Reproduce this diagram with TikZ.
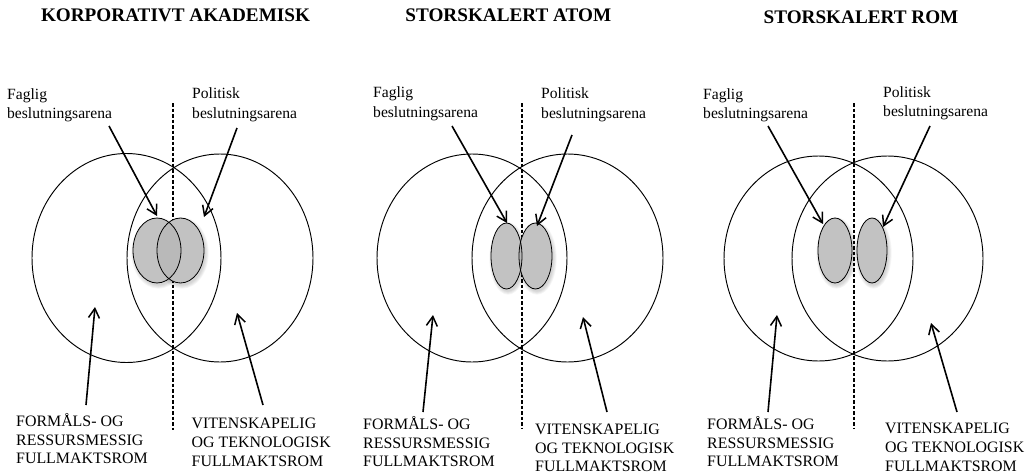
\documentclass[tikz,border=0pt]{standalone}
\usepackage{fontspec}
\setmainfont{Liberation Serif}
\usetikzlibrary{arrows.meta,shapes.geometric}
\begin{document}
\begin{tikzpicture}[x=1pt,y=-1pt,
  heading/.style={font=\bfseries\fontsize{19.2}{22}\selectfont, anchor=base, inner sep=0pt},
  arenalabel/.style={font=\fontsize{15.6}{19.3}\selectfont, align=left, anchor=north west, inner sep=0pt},
  roomlabel/.style={font=\fontsize{15.9}{18.8}\selectfont, align=left, anchor=north west, inner sep=0pt},
  room/.style={draw, ellipse, line width=0.95pt, inner sep=0pt},
  arena/.style={ellipse, inner sep=0pt, fill=white},
  arenafill/.style={fill=black!28, fill opacity=0.85},
  arenaline/.style={draw, line width=0.8pt},
  divider/.style={line width=1.2pt, dash pattern=on 3.5pt off 2pt},
  pointer/.style={-{Straight Barb[length=9.5pt,width=11pt,line width=1.5pt]}, line width=1.6pt},
]
\useasboundingbox (0,0) rectangle (1031,474);

% ---------- headings ----------
\node[heading] (h1) at (175.5,21.7) {KORPORATIVT AKADEMISK};
\node[heading] (h2) at (508.3,21.7) {STORSKALERT ATOM};
\node[heading] (h3) at (861,23.3) {STORSKALERT ROM};

% ---------- the two large rooms of each model ----------
\node[room, minimum width=189pt, minimum height=209pt] (L1) at (126.5,258) {};
\node[room, minimum width=186pt, minimum height=208pt] (R1) at (220,258) {};
\node[room, minimum width=190pt, minimum height=208pt] (L2) at (472,258) {};
\node[room, minimum width=191pt, minimum height=208pt] (R2) at (567.5,258) {};
\node[room, minimum width=189pt, minimum height=205pt] (L3) at (818.5,258.5) {};
\node[room, minimum width=191pt, minimum height=205pt] (R3) at (887.5,258.5) {};

% ---------- dividing lines ----------
\coordinate (d1t) at (173,103);  \coordinate (d1b) at (173,430);
\coordinate (d2t) at (522,103);  \coordinate (d2b) at (522,429);
\coordinate (d3t) at (854,103);  \coordinate (d3b) at (854,429);
\draw[divider] (d1t) -- (d1b);
\draw[divider] (d2t) -- (d2b);
\draw[divider] (d3t) -- (d3b);

% ---------- soft shadows under the decision arenas ----------
\foreach \x/\y/\a/\b in {157/250.5/24/32.5, 180.5/250.5/23.5/32.5,
                         506.5/256/15.5/33, 535.5/256/16.5/33,
                         835/250.5/17/32.5, 872/250.5/15/32.5}
  \foreach \k in {0,0.8,...,4}
    \fill[black, opacity=0.035] (\x+1.5,\y+2.5) ellipse [x radius=\a+\k, y radius=\b+\k];

% ---------- decision arenas ----------
\node[arena, minimum width=48pt, minimum height=65pt] (F1) at (157,250.5) {};
\node[arena, minimum width=47pt, minimum height=65pt] (P1) at (180.5,250.5) {};
\node[arena, minimum width=31pt, minimum height=66pt] (F2) at (506.5,256) {};
\node[arena, minimum width=33pt, minimum height=66pt] (P2) at (535.5,256) {};
\node[arena, minimum width=34pt, minimum height=65pt] (F3) at (835,250.5) {};
\node[arena, minimum width=30pt, minimum height=65pt] (P3) at (872,250.5) {};
\foreach \n/\a/\b in {F1/24/32.5, P1/23.5/32.5, F2/15.5/33, P2/16.5/33, F3/17/32.5, P3/15/32.5}
  \fill[arenafill] (\n.center) ellipse [x radius=\a, y radius=\b];
\foreach \n/\a/\b in {F1/24/32.5, P1/23.5/32.5, F2/15.5/33, P2/16.5/33, F3/17/32.5, P3/15/32.5}
  \path[arenaline] (\n.center) ellipse [x radius=\a, y radius=\b];

% ---------- arena labels ----------
\node[arenalabel] (fl1) at (7,86)     {\rule{0pt}{13pt}Faglig\\beslutningsarena};
\node[arenalabel] (pl1) at (192,85.5) {\rule{0pt}{13pt}Politisk\\beslutningsarena};
\node[arenalabel] (fl2) at (373,84.5) {\rule{0pt}{13pt}Faglig\\beslutningsarena};
\node[arenalabel] (pl2) at (541,85.7) {\rule{0pt}{13pt}Politisk\\beslutningsarena};
\node[arenalabel] (fl3) at (703,86)   {\rule{0pt}{13pt}Faglig\\beslutningsarena};
\node[arenalabel] (pl3) at (883,84)   {\rule{0pt}{13pt}Politisk\\beslutningsarena};

% ---------- room labels ----------
\node[roomlabel] (rl1) at (16,411)    {\rule{0pt}{15pt}FORMÅLS- OG\\RESSURSMESSIG\\FULLMAKTSROM};
\node[roomlabel] (rr1) at (191.5,413.5) {\rule{0pt}{15pt}VITENSKAPELIG\\OG TEKNOLOGISK\\FULLMAKTSROM};
\node[roomlabel] (rl2) at (363,414)   {\rule{0pt}{15pt}FORMÅLS- OG\\RESSURSMESSIG\\FULLMAKTSROM};
\node[roomlabel] (rr2) at (535,419)   {\rule{0pt}{15pt}VITENSKAPELIG\\OG TEKNOLOGISK\\FULLMAKTSROM};
\node[roomlabel] (rl3) at (707,414)   {\rule{0pt}{15pt}FORMÅLS- OG\\RESSURSMESSIG\\FULLMAKTSROM};
\node[roomlabel] (rr3) at (885,418.5) {\rule{0pt}{15pt}VITENSKAPELIG\\OG TEKNOLOGISK\\FULLMAKTSROM};

% ---------- pointer ends ----------
\coordinate (a1s) at (109,126);  \coordinate (a1e) at (157,216);
\coordinate (b1s) at (237,128);  \coordinate (b1e) at (204,217);
\coordinate (c1s) at (86,405);   \coordinate (c1e) at (95,307);
\coordinate (e1s) at (263,405);  \coordinate (e1e) at (237,313);

\coordinate (a2s) at (452,126);  \coordinate (a2e) at (507,223);
\coordinate (b2s) at (572,135);  \coordinate (b2e) at (537,226);
\coordinate (c2s) at (423,412);  \coordinate (c2e) at (433,315);
\coordinate (e2s) at (607,412);  \coordinate (e2e) at (583,317);

\coordinate (a3s) at (768,126);  \coordinate (a3e) at (823,224);
\coordinate (b3s) at (930,126);  \coordinate (b3e) at (883,227);
\coordinate (c3s) at (768,412);  \coordinate (c3e) at (777,315);
\coordinate (e3s) at (957,412);  \coordinate (e3e) at (931,323);

\foreach \p in {a,b,c,e}
  \foreach \i in {1,2,3}
    \draw[pointer] (\p\i s) -- (\p\i e);
\end{tikzpicture}
\end{document}
